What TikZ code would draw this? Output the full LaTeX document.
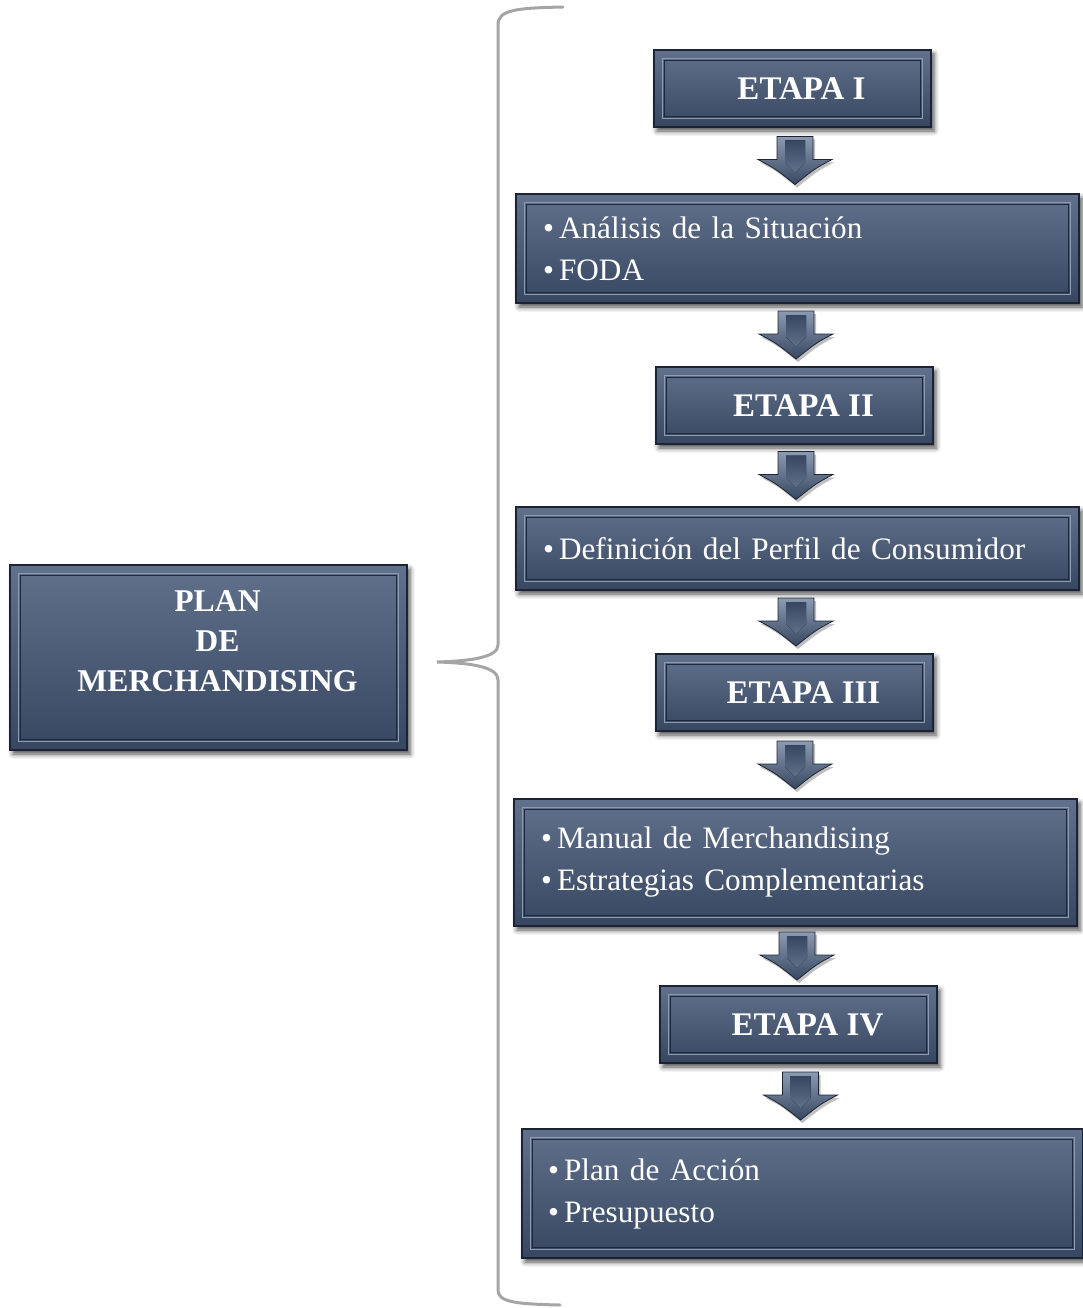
\documentclass[tikz,border=0pt]{standalone}
\usepackage{fontspec}
\setmainfont{Liberation Serif}
\usetikzlibrary{calc,shadows.blur}
\definecolor{boxtop}{RGB}{97,113,139}
\definecolor{boxbot}{RGB}{56,71,97}
\definecolor{boxedge}{RGB}{28,36,52}
\definecolor{bevellight}{RGB}{140,155,178}
\definecolor{beveldark}{RGB}{30,40,58}
\definecolor{bracegray}{RGB}{165,165,165}
\tikzset{
  panel/.style={draw=boxedge, line width=1.2pt, top color=boxtop, bottom color=boxbot,
    text=white, inner sep=0pt,
    blur shadow={shadow xshift=3pt, shadow yshift=-4pt, shadow blur radius=5pt, shadow opacity=70}},
  stagebox/.style={panel, minimum width=277pt, minimum height=77pt,
    font=\fontsize{33}{40}\selectfont\bfseries},
  listbox/.style={panel, minimum height=#1, minimum width=563pt, text width=509pt, align=left,
    font=\fontsize{31.2}{42}\selectfont},
  framein/.style={draw=beveldark, line width=1.4pt},
  frameout/.style={draw=bevellight, line width=1pt},
  downarrow/.pic={
    \fill[black, opacity=0.25] (-16,21) -- (20,21) -- (20,-2) -- (39,-2) .. controls (22,-11) .. (2,-27) .. controls (-18,-11) .. (-35,-2) -- (-16,-2) -- cycle;
    \draw[boxedge, line width=0.8pt, top color=bevellight, bottom color=boxbot]
      (-18,24) -- (18,24) -- (18,1) -- (37,1) .. controls (20,-8) .. (0,-24) .. controls (-20,-8) .. (-37,1) -- (-18,1) -- cycle;
    \fill[top color=boxbot, bottom color=boxtop] (-10,20) -- (10,20) -- (10,-2) -- (0,-12) -- (-10,-2) -- cycle;
  }
}
% bevelled inner frame of a panel
\newcommand\bevel[1]{%
  \draw[frameout] ($(#1.north west)+(9,-9)$) rectangle ($(#1.south east)+(-9,9)$);
  \draw[framein] ($(#1.north west)+(11,-11)$) rectangle ($(#1.south east)+(-11,11)$);}
% stage label, set a little right of the box centre
\newcommand\stagetext[1]{\hspace*{18pt}#1}
\begin{document}
\begin{tikzpicture}[x=1pt,y=1pt]
\useasboundingbox (0,0) rectangle (1083,-1308);

% curly brace grouping the stages
\draw[bracegray, line width=3pt, line cap=round]
  (563,-7) .. controls (515,-8) and (498,-10) .. (498,-25) -- (498,-645)
  .. controls (498,-657) and (472,-661) .. (437,-662)
  .. controls (472,-663) and (498,-667) .. (498,-680) -- (498,-1290)
  .. controls (498,-1302) and (515,-1304) .. (560,-1305);

% title box
\node[panel, minimum width=397pt, minimum height=185pt] (plan) at (208.5,-657.5) {};
\bevel{plan}
\node[text=white, align=center, inner sep=0pt, font=\fontsize{31.7}{40}\selectfont\bfseries]
  (plantitle) at ($(plan.center)+(9,16)$) {PLAN\\DE\\MERCHANDISING};

% stages and their contents
\node[stagebox] (e1) at (792.5,-88.5) {\stagetext{ETAPA I}};
\node[listbox=109pt] (bA) at (797.5,-248.5) {\textbullet\,Análisis de la Situación\\\textbullet\,FODA};
\node[stagebox] (e2) at (794.5,-405.5) {\stagetext{ETAPA II}};
\node[listbox=83pt] (bB) at (797.5,-548.5) {\textbullet\,Definición del Perfil de Consumidor};
\node[stagebox] (e3) at (794.5,-692.5) {\stagetext{ETAPA III}};
\node[listbox=127pt] (bC) at (795.5,-862.5) {\textbullet\,Manual de Merchandising\\\textbullet\,Estrategias Complementarias};
\node[stagebox] (e4) at (798.5,-1024.5) {\stagetext{ETAPA IV}};
\node[listbox=129pt, minimum width=561pt] (bD) at (802.5,-1193.5) {\textbullet\,Plan de Acción\\\textbullet\,Presupuesto};

\foreach \n in {e1,bA,e2,bB,e3,bC,e4,bD} {\bevel{\n}}

% block arrows between consecutive boxes
\foreach \a/\b in {e1/bA,bA/e2,e2/bB,bB/e3,e3/bC,bC/e4,e4/bD}
  \pic at ($(\a.south)!0.5!(\b.north)$) {downarrow};
\end{tikzpicture}
\end{document}
